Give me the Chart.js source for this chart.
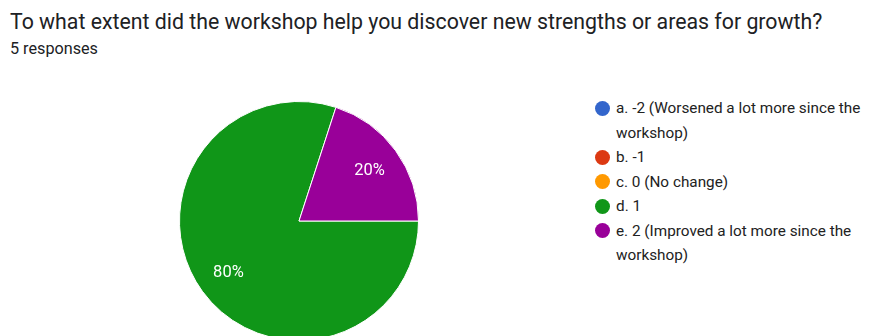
<!DOCTYPE html>
<html>
<head>
<meta charset="utf-8">
<script src="https://cdn.jsdelivr.net/npm/chart.js@4"></script>
<style>
  html, body { margin: 0; padding: 0; background: #fff; overflow: hidden; }
  body { width: 874px; height: 336px; position: relative; font-family: Roboto, Arial, sans-serif; color: #202124; }
  #title { position: absolute; left: 10px; top: 9px; font-size: 21.3px; line-height: 26px; white-space: nowrap; }
  #sub { position: absolute; left: 10px; top: 39px; font-size: 16.2px; line-height: 20px; color: #202124; }
  #pieBox { position: absolute; left: 179px; top: 101px; width: 240px; height: 240px; }
  #legend { position: absolute; left: 594px; top: 96px; width: 276px; font-size: 15.3px; line-height: 24.5px; color: #222; }
  .item { position: relative; padding-left: 22px; }
  .dot { position: absolute; left: 1px; top: 4.75px; width: 15px; height: 15px; border-radius: 50%; }
</style>
</head>
<body>
<div id="title">To what extent did the workshop help you discover new strengths or areas for growth?</div>
<div id="sub">5 responses</div>
<div id="pieBox"><canvas id="chart" width="240" height="240"></canvas></div>
<div id="legend"></div>
<script>
const labels = [
  "a. -2 (Worsened a lot more since the workshop)",
  "b. -1",
  "c. 0 (No change)",
  "d. 1",
  "e. 2 (Improved a lot more since the workshop)",
];
const counts = [0, 0, 0, 4, 1];
const colors = ["#3366cc", "#dc3912", "#ff9900", "#109618", "#990099"];

// percentage text inside each slice
const sliceLabels = {
  id: "sliceLabels",
  afterDatasetsDraw(chart) {
    const ctx = chart.ctx;
    const meta = chart.getDatasetMeta(0);
    const total = counts.reduce((a, b) => a + b, 0);
    ctx.save();
    ctx.font = "16.5px Roboto, Arial, sans-serif";
    ctx.fillStyle = "#fff";
    ctx.textAlign = "center";
    ctx.textBaseline = "middle";
    meta.data.forEach((arc, i) => {
      if (!counts[i]) return;
      const { x, y, startAngle, endAngle, outerRadius } = arc.getProps(
        ["x", "y", "startAngle", "endAngle", "outerRadius"], true);
      const mid = (startAngle + endAngle) / 2;
      const r = outerRadius * 0.73;
      const pct = Math.round((counts[i] / total) * 100) + "%";
      ctx.fillText(pct, x + Math.cos(mid) * r, y + Math.sin(mid) * r + 1);
    });
    ctx.restore();
  },
};

new Chart(document.getElementById("chart").getContext("2d"), {
  type: "pie",
  data: {
    labels,
    datasets: [{
      data: counts,
      backgroundColor: colors,
      borderColor: "#fff",
      borderWidth: 1,
    }],
  },
  options: {
    responsive: false,
    animation: false,
    rotation: 90,
    plugins: {
      legend: { display: false },
      tooltip: { enabled: false },
    },
  },
  plugins: [sliceLabels],
});

const legend = document.getElementById("legend");
labels.forEach((text, i) => {
  const item = document.createElement("div");
  item.className = "item";
  const dot = document.createElement("span");
  dot.className = "dot";
  dot.style.background = colors[i];
  item.appendChild(dot);
  item.appendChild(document.createTextNode(text));
  legend.appendChild(item);
});
</script>
</body>
</html>
